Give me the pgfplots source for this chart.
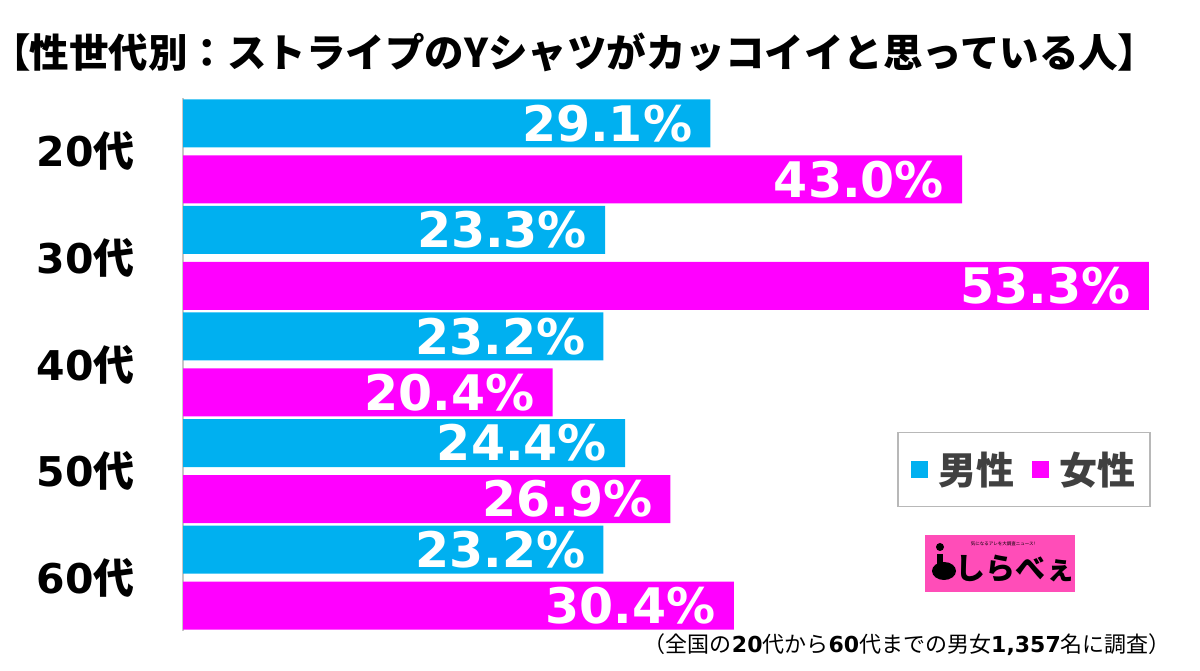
\documentclass[border=0pt]{standalone}
\usepackage{fontspec}
\usepackage{pgfplots}
\pgfplotsset{compat=1.18}
\setmainfont{Noto Sans CJK JP}
\newfontfamily\paltfont{Noto Sans CJK JP}[RawFeature=+palt]
\newfontfamily\numfont{DejaVu Sans}
\definecolor{male}{HTML}{00B0F0}
\definecolor{female}{HTML}{FF00FF}
\definecolor{logo}{HTML}{FF4DB8}
\definecolor{legtext}{HTML}{404040}
\newcommand\cat[1]{{\numfont\bfseries #1}\bfseries 代}
\begin{document}
\begin{tikzpicture}
\path[use as bounding box] (0,0) rectangle (1200pt,671pt);
\begin{axis}[
  at={(183pt,40pt)}, anchor=south west,
  scale only axis, width=996.6pt, height=533pt,
  xmin=0, xmax=55, ymin=-0.5, ymax=4.5,
  xbar, bar width=48pt,
  axis x line=none, axis y line*=left,
  y axis line style={draw=black!22, line width=2pt},
  ytick={0,1,2,3,4},
  yticklabels={\cat{60},\cat{50},\cat{40},\cat{30},\cat{20}},
  major tick length=0pt,
  yticklabel style={font=\fontsize{41}{41}\selectfont, anchor=east, inner sep=0pt, xshift=-48pt},
  point meta=x,
  /pgf/number format/assume math mode=true,
  nodes near coords={\pgfmathprintnumber[fixed,fixed zerofill,precision=1]{\pgfplotspointmeta}\%},
  nodes near coords style={anchor=east, text=white, font=\fontsize{49}{49}\selectfont\numfont\bfseries, xshift=-18pt, inner sep=0pt},
  legend columns=2,
  legend style={at={(0.8439,0.303)}, anchor=center, draw=black!28, line width=1.5pt,
    font=\fontsize{38}{38}\selectfont\bfseries, text=legtext, inner xsep=13pt, inner ysep=18pt,
    /tikz/every odd column/.append style={column sep=8pt},
    /tikz/every even column/.append style={column sep=16pt}},
  legend image code/.code={\fill[#1,draw=none] (0pt,-8.5pt) rectangle (17pt,8.5pt);},
  clip=false,
]
\addplot[fill=male, draw=none, bar shift=28pt] coordinates {(29.1,4) (23.3,3) (23.2,2) (24.4,1) (23.2,0)};
\addlegendentry{男性}
\addplot[fill=female, draw=none, bar shift=-28pt] coordinates {(43.0,4) (53.3,3) (20.4,2) (26.9,1) (30.4,0)};
\addlegendentry{女性}
\end{axis}
\node[anchor=west, inner sep=0pt] at (10pt,619pt) {\fontsize{39.5}{39.5}\selectfont\bfseries{\paltfont\bfseries 【}性世代別：ストライプのYシャツがカッコイイと思っている人{\paltfont\bfseries 】}};
\fill[logo] (925pt,79pt) rectangle (1075pt,136pt);
\node[anchor=west, inner sep=0pt] at (955pt,102pt) {\fontsize{30}{30}\selectfont\bfseries しらべぇ};
\node[inner sep=0pt] at (1003pt,127pt) {\fontsize{4.5}{4.5}\selectfont 気になるアレを大調査ニュース!};
\fill[black] (940pt,124pt) circle (4pt);
\fill[black] (937pt,117pt) rectangle (943pt,100pt);
\fill[black] (944pt,100pt) ellipse (12pt and 9pt);
\node[anchor=east, inner sep=0pt] at (1171pt,26pt) {\fontsize{22}{22}\selectfont （全国の{\numfont\bfseries 20}代から{\numfont\bfseries 60}代までの男女{\numfont\bfseries 1,357}名に調査）};
\end{tikzpicture}
\end{document}
